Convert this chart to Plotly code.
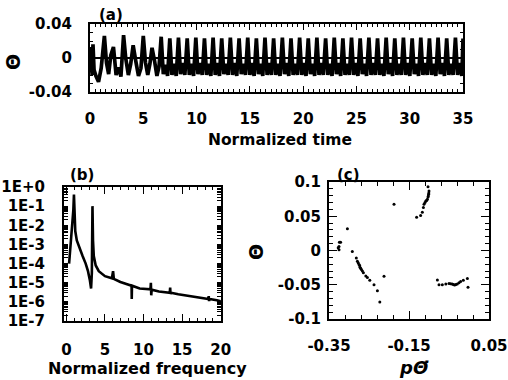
import plotly.graph_objects as go

W, H = 508, 380

# ---------------- Panel (a): time series ----------------
t_a = [
    0.0, 0.06, 0.12, 0.2, 0.28, 0.38, 0.55, 0.8, 1.05, 1.35, 1.55, 1.75, 1.95, 2.2, 2.45, 2.7, 2.9,
    3.15, 3.35, 3.6, 3.82, 4.05, 4.3, 4.55, 4.78, 5.0, 5.2, 5.42, 5.62, 5.82, 6.05, 6.28, 6.48,
    6.68, 6.88, 7.08, 7.28,
    7.49, 7.69, 7.89, 8.09,
    8.30, 8.50, 8.70, 8.90,
    9.12, 9.32, 9.52, 9.72,
    9.93, 10.13, 10.33, 10.53,
    10.74, 10.94, 11.14, 11.34,
    11.55, 11.75, 11.95, 12.15,
    12.36, 12.56, 12.76, 12.96,
    13.17, 13.37, 13.57, 13.77,
    13.99, 14.19, 14.39, 14.59,
    14.80, 15.00, 15.20, 15.40,
    15.61, 15.81, 16.01, 16.21,
    16.42, 16.62, 16.82, 17.02,
    17.23, 17.43, 17.63, 17.83,
    18.05, 18.25, 18.45, 18.65,
    18.86, 19.06, 19.26, 19.46,
    19.67, 19.87, 20.07, 20.27,
    20.48, 20.68, 20.88, 21.08,
    21.29, 21.49, 21.69, 21.89,
    22.11, 22.31, 22.51, 22.71,
    22.92, 23.12, 23.32, 23.52,
    23.73, 23.93, 24.13, 24.33,
    24.54, 24.74, 24.94, 25.14,
    25.35, 25.55, 25.75, 25.95,
    26.17, 26.37, 26.57, 26.77,
    26.98, 27.18, 27.38, 27.58,
    27.79, 27.99, 28.19, 28.39,
    28.60, 28.80, 29.00, 29.20,
    29.41, 29.61, 29.81, 30.01,
    30.23, 30.43, 30.63, 30.83,
    31.04, 31.24, 31.44, 31.64,
    31.85, 32.05, 32.25, 32.45,
    32.66, 32.86, 33.06, 33.26,
    33.47, 33.67, 33.87, 34.07,
    34.29, 34.49, 34.69, 34.89,
    35.0,
]
theta_a = [
    0.0, -0.017, 0.013, -0.020, 0.016, -0.014, -0.021, -0.028, -0.012, 0.026, -0.006, -0.019, 0.003,
    0.013, -0.020, -0.011, -0.022, 0.027, 0.0, -0.020, -0.007, 0.015, -0.004, -0.021, -0.012, 0.026,
    -0.005, -0.020, -0.007, 0.012, -0.003, -0.021, -0.010,
    0.025, -0.019, -0.008, -0.021,
    0.023, -0.020, -0.007, -0.021,
    0.024, -0.019, -0.006, -0.020,
    0.023, -0.020, -0.007, -0.021,
    0.024, -0.019, -0.006, -0.020,
    0.023, -0.020, -0.007, -0.021,
    0.024, -0.020, -0.006, -0.021,
    0.023, -0.019, -0.007, -0.020,
    0.024, -0.020, -0.006, -0.021,
    0.023, -0.019, -0.007, -0.020,
    0.024, -0.020, -0.006, -0.021,
    0.023, -0.019, -0.007, -0.021,
    0.024, -0.020, -0.006, -0.020,
    0.023, -0.020, -0.007, -0.021,
    0.024, -0.019, -0.006, -0.021,
    0.023, -0.020, -0.007, -0.020,
    0.024, -0.020, -0.006, -0.021,
    0.023, -0.019, -0.007, -0.021,
    0.024, -0.020, -0.006, -0.020,
    0.023, -0.020, -0.007, -0.021,
    0.024, -0.019, -0.006, -0.021,
    0.023, -0.020, -0.007, -0.020,
    0.024, -0.020, -0.006, -0.021,
    0.023, -0.019, -0.007, -0.021,
    0.024, -0.020, -0.006, -0.020,
    0.023, -0.020, -0.007, -0.021,
    0.024, -0.019, -0.006, -0.021,
    0.023, -0.020, -0.007, -0.020,
    0.024, -0.020, -0.006, -0.021,
    0.023, -0.019, -0.007, -0.021,
    0.024, -0.020, -0.006, -0.020,
    0.023, -0.020, -0.007, -0.021,
    0.024, -0.019, -0.006, -0.021,
    0.023, -0.020, -0.007, -0.020,
    0.024, -0.020, -0.006, -0.021,
    0.023, -0.019, -0.007, -0.021,
    0.012,
]

# ---------------- Panel (b): spectrum ----------------
freq_b = [0.35, 0.45, 0.6, 0.75, 0.9, 0.98, 1.05, 1.15, 1.35, 1.7,
          2.1, 2.5, 2.8, 3.05, 3.2, 3.3, 3.38, 3.45, 3.55, 3.8,
          4.2, 5.0, 5.9, 6.05, 6.15, 7.0, 8.0, 8.45, 8.47, 8.5,
          9.5, 10.9, 10.95, 11.0, 11.05, 12.0, 13.4, 13.45, 13.5, 13.55,
          14.5, 15.5, 16.5, 17.5, 18.4, 18.45, 18.5, 18.55, 19.5, 20.0]
power_b = [1e-4, 3.2e-4, 1.6e-3, 6.3e-3, 6.3e-2, 0.4, 3.2e-2, 5e-3, 1.6e-3, 6.3e-4,
           2.5e-4, 1e-4, 4e-5, 1.3e-5, 5e-6, 3.2e-5, 0.1, 1.6e-3, 2.5e-4, 8e-5,
           4e-5, 2.2e-5, 1.7e-5, 4e-5, 1.6e-5, 1.1e-5, 8e-6, 7e-6, 1.4e-6, 7e-6,
           5e-6, 4.5e-6, 1e-5, 2.2e-6, 4.3e-6, 3.5e-6, 3e-6, 5.6e-6, 2.5e-6, 3e-6,
           2.5e-6, 2.2e-6, 1.9e-6, 1.6e-6, 1.4e-6, 2e-6, 1.1e-6, 1.4e-6, 1.2e-6, 1.07e-6]
decade_labels_b = ["1E+0", "1E-1", "1E-2", "1E-3", "1E-4", "1E-5", "1E-6", "1E-7"]

# ---------------- Panel (c): Poincare section ----------------
ptheta_c = [-0.1025, -0.100, -0.1005, -0.101, -0.1017, -0.1025, -0.104, -0.106, -0.108, -0.110,
            -0.1125, -0.114, -0.1167, -0.121, -0.131, -0.1875,
            -0.304, -0.321, -0.324, -0.325, -0.327, -0.325,
            -0.2917, -0.2817, -0.279, -0.277, -0.275, -0.2735, -0.2725, -0.271, -0.269, -0.2665,
            -0.264, -0.258, -0.254, -0.248, -0.2375, -0.229, -0.223, -0.2125,
            -0.079, -0.075, -0.0667, -0.058, -0.050, -0.046, -0.042, -0.039, -0.036, -0.033,
            -0.0293, -0.025, -0.021, -0.0142, -0.004, -0.0025]
theta_c = [0.0929, 0.0867, 0.084, 0.082, 0.0796, 0.078, 0.0747, 0.073, 0.0724, 0.070,
           0.0676, 0.0629, 0.0557, 0.051, 0.0486, 0.0676,
           0.0319, 0.0119, 0.012, 0.0057, 0.004, 0.001,
           -0.0014, -0.011, -0.0157, -0.018, -0.0204, -0.022, -0.0243, -0.026, -0.0276, -0.030,
           -0.0324, -0.0371, -0.0395, -0.0433, -0.050, -0.0586, -0.0752, -0.0376,
           -0.0429, -0.050, -0.050, -0.049, -0.048, -0.0485, -0.049, -0.0497, -0.0504, -0.0498,
           -0.049, -0.047, -0.0453, -0.0433, -0.041, -0.0538]

FONT = "DejaVu Sans"
tickfont = dict(family=FONT, size=15, color="black", weight="bold")


def dom_x(a, b):
    return [a / W, b / W]


def dom_y(top, bottom):
    return [1 - bottom / H, 1 - top / H]


fig = go.Figure()
fig.add_trace(go.Scatter(x=t_a, y=theta_a, mode="lines",
                         line=dict(color="black", width=3.7), xaxis="x", yaxis="y",
                         showlegend=False))
fig.add_trace(go.Scatter(x=freq_b, y=power_b, mode="lines",
                         line=dict(color="black", width=2.6), xaxis="x2", yaxis="y2",
                         showlegend=False))
fig.add_trace(go.Scatter(x=ptheta_c, y=theta_c, mode="markers",
                         marker=dict(color="black", size=3), xaxis="x3", yaxis="y3",
                         showlegend=False))

common = dict(showline=True, linecolor="black", linewidth=2, mirror="allticks",
              ticks="inside", tickcolor="black", tickwidth=1.2, showgrid=False,
              zeroline=False, tickfont=tickfont, fixedrange=True, automargin=False)

# log ticks for (b)
logvals = []
logtext = []
for k in range(0, 8):
    logvals.append(10.0 ** (-k))
    logtext.append(decade_labels_b[k])
for k in range(1, 8):
    for m in range(2, 10):
        logvals.append(m * 10.0 ** (-k))
        logtext.append("")

fig.update_layout(
    template="none",
    width=W, height=H, margin=dict(l=0, r=0, t=0, b=0, autoexpand=False),
    paper_bgcolor="white", plot_bgcolor="white",
    xaxis=dict(common, domain=dom_x(90, 463), anchor="y", range=[0, 35],
               tickvals=[0, 5, 10, 15, 20, 25, 30, 35],
               ticktext=["0", "5", "10", "15", "20", "25", "30", "35"],
               ticklen=6, ticklabelstandoff=12,
               minor=dict(ticks="inside", dtick=0.5, tick0=0, ticklen=3, tickcolor="black")),
    yaxis=dict(common, domain=dom_y(24, 92), anchor="x", range=[-0.04, 0.04],
               tickvals=[-0.04, 0, 0.04], ticktext=["-0.04", "0", "0.04"],
               ticklen=6, ticklabelstandoff=13, zeroline=True, zerolinecolor="black",
               zerolinewidth=1.5,
               minor=dict(ticks="inside", dtick=0.01, tick0=0, ticklen=3, tickcolor="black")),
    xaxis2=dict(common, domain=dom_x(64, 221), anchor="y2", range=[-0.31, 20.04],
                tickvals=[0, 5, 10, 15, 20], ticktext=["0", "5", "10", "15", "20"],
                ticklen=7, ticklabelstandoff=14,
                minor=dict(ticks="inside", dtick=1, tick0=0, ticklen=3, tickcolor="black")),
    yaxis2=dict(common, domain=dom_y(187, 321), anchor="x2", type="log", range=[-7, 0],
                tickvals=logvals, ticktext=logtext, ticklen=4, ticklabelstandoff=14),
    xaxis3=dict(common, domain=dom_x(329, 489), anchor="y3", range=[-0.35, 0.05],
                tickvals=[-0.35, -0.15, 0.05], ticktext=["-0.35", "-0.15", "0.05"],
                ticklen=8, ticklabelstandoff=12,
                minor=dict(ticks="inside", dtick=0.04, tick0=-0.35, ticklen=4, tickcolor="black")),
    yaxis3=dict(common, domain=dom_y(182, 319), anchor="x3", range=[-0.1, 0.1],
                tickvals=[-0.1, -0.05, 0, 0.05, 0.1],
                ticktext=["-0.1", "-0.05", "0", "0.05", "0.1"],
                ticklen=8, ticklabelstandoff=3,
                minor=dict(ticks="inside", dtick=0.01, tick0=0, ticklen=4, tickcolor="black")),
)


def note(text, px, py, size=15, angle=0, italic=False):
    fig.add_annotation(text=text, x=px / W, y=1 - py / H, xref="paper", yref="paper",
                       xanchor="center", yanchor="middle", showarrow=False, textangle=angle,
                       font=dict(family=FONT, size=size, color="black", weight="bold",
                                 style="italic" if italic else "normal"))


note("(a)", 111, 15)
note("(b)", 82, 175)
note("(c)", 348, 175)
note("Normalized time", 280, 140, size=15.5)
note("Normalized frequency", 147, 368, size=16)
note("Θ", 13, 62, size=19, angle=-90)
note("Θ", 256, 252, size=19, angle=-90)
note("pΘ\u0307", 414, 367, size=18, italic=True)

fig.write_html("out.html")
